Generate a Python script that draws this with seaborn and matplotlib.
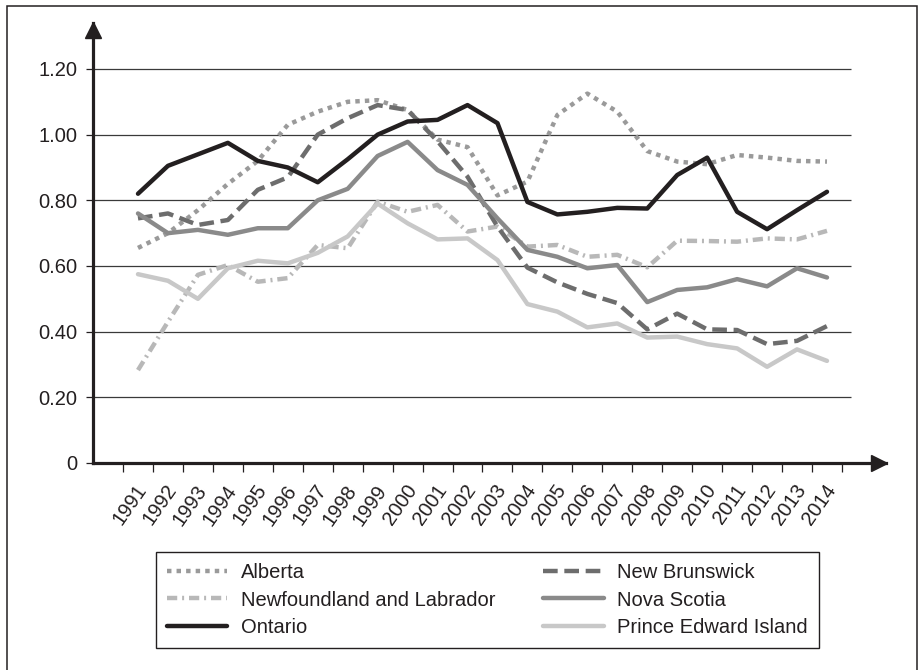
import numpy as np
import pandas as pd
import matplotlib
matplotlib.use("Agg")
import matplotlib.pyplot as plt
import matplotlib.transforms as mtransforms
from matplotlib.patches import Rectangle
import seaborn as sns

# values
years = [str(y) for y in range(1991, 2015)]
alberta = [0.655, 0.70, 0.77, 0.85, 0.92, 1.03, 1.07, 1.10, 1.105, 1.075, 0.985, 0.962,
           0.815, 0.857, 1.06, 1.125, 1.07, 0.95, 0.918, 0.91, 0.938, 0.93, 0.92, 0.918]
newfoundland = [0.283, 0.43, 0.573, 0.603, 0.552, 0.563, 0.664, 0.654, 0.796, 0.765, 0.786, 0.705,
                0.72, 0.659, 0.664, 0.628, 0.634, 0.596, 0.677, 0.676, 0.674, 0.684, 0.681, 0.707]
ontario = [0.82, 0.905, 0.94, 0.975, 0.92, 0.90, 0.855, 0.925, 1.0, 1.04, 1.045, 1.09,
           1.035, 0.795, 0.757, 0.765, 0.777, 0.775, 0.877, 0.93, 0.765, 0.712, 0.77, 0.826]
new_brunswick = [0.745, 0.76, 0.725, 0.74, 0.832, 0.87, 1.0, 1.05, 1.09, 1.075, 0.98, 0.872,
                 0.72, 0.595, 0.55, 0.515, 0.487, 0.407, 0.455, 0.407, 0.405, 0.362, 0.372, 0.417]
nova_scotia = [0.76, 0.70, 0.71, 0.695, 0.715, 0.715, 0.80, 0.835, 0.935, 0.978, 0.892, 0.847,
               0.745, 0.649, 0.628, 0.593, 0.603, 0.49, 0.527, 0.535, 0.56, 0.538, 0.593, 0.565]
pei = [0.575, 0.555, 0.50, 0.593, 0.616, 0.608, 0.64, 0.69, 0.79, 0.73, 0.681, 0.684,
       0.618, 0.484, 0.461, 0.413, 0.425, 0.382, 0.385, 0.362, 0.349, 0.293, 0.346, 0.311]
y_ticks = [0, 0.2, 0.4, 0.6, 0.8, 1.0, 1.2]
y_labels = ["0", "0.20", "0.40", "0.60", "0.80", "1.00", "1.20"]

provinces = ["Alberta", "Newfoundland and Labrador", "Ontario",
             "New Brunswick", "Nova Scotia", "Prince Edward Island"]
series = [alberta, newfoundland, ontario, new_brunswick, nova_scotia, pei]

# long-form table for seaborn
df = pd.DataFrame({
    "idx": np.tile(np.arange(len(years)), len(provinces)),
    "value": np.concatenate(series),
    "province": np.repeat(provinces, len(years)),
})

palette = {
    "Alberta": "#9a9a9a",
    "Newfoundland and Labrador": "#b8b8b8",
    "Ontario": "#231f20",
    "New Brunswick": "#6d6d6d",
    "Nova Scotia": "#8a8a8a",
    "Prince Edward Island": "#c8c8c8",
}
dashes = {
    "Alberta": (1, 1.15),
    "Newfoundland and Labrador": (2.3, 1.1, 0.45, 1.1),
    "Ontario": "",
    "New Brunswick": (3.3, 1.5),
    "Nova Scotia": "",
    "Prince Edward Island": "",
}
draw_order = ["Alberta", "Newfoundland and Labrador", "New Brunswick",
              "Nova Scotia", "Prince Edward Island", "Ontario"]

FS = 14.5

sns.set_theme(style="white")
plt.rcParams["font.family"] = ["Liberation Sans", "DejaVu Sans"]
plt.rcParams["font.size"] = FS
plt.rcParams["text.color"] = "#231f20"

fig = plt.figure(figsize=(9.18, 6.7), dpi=100)
ax = fig.add_axes([93 / 918, 1 - 463 / 670, (886 - 93) / 918, (463 - 23) / 670])

ax.hlines(y_ticks[1:], -1.5, 23.8, color="#3a3a3a", linewidth=0.9, zorder=1)

sns.lineplot(data=df, x="idx", y="value", hue="province", style="province",
             hue_order=draw_order, style_order=draw_order,
             palette=palette, dashes=dashes, linewidth=3.2, ax=ax, legend=True, zorder=3)

ax.set_xlim(-1.502, 24.97)
ax.set_ylim(0, 1.34)
ax.set_xlabel("")
ax.set_ylabel("")

# axes spines with arrow heads
for side in ["top", "right"]:
    ax.spines[side].set_visible(False)
for side in ["left", "bottom"]:
    ax.spines[side].set_color("#231f20")
    ax.spines[side].set_linewidth(2.3)
up = mtransforms.offset_copy(ax.transAxes, fig=fig, x=0, y=-7, units="dots")
right = mtransforms.offset_copy(ax.transAxes, fig=fig, x=-7, y=0, units="dots")
ax.plot(0, 1, marker="^", markersize=11, color="#231f20", transform=up, clip_on=False)
ax.plot(1, 0, marker=">", markersize=11, color="#231f20", transform=right, clip_on=False)

# y ticks
ax.set_yticks(y_ticks)
ax.set_yticklabels(y_labels)
ax.tick_params(axis="y", which="major", direction="out", length=5, width=0.9,
               color="#231f20", pad=6, left=True, labelsize=FS, labelcolor="#231f20")

# x ticks: labels at points, tick marks between categories
ax.set_xticks(range(len(years)))
ax.set_xticklabels(years, rotation=55, ha="right", va="center", rotation_mode="anchor")
ax.set_xticks(np.arange(len(years) + 1) - 0.5, minor=True)
ax.tick_params(axis="x", which="major", length=0, pad=17, labelsize=FS, labelcolor="#231f20")
ax.tick_params(axis="x", which="minor", direction="out", length=6.5, width=0.9,
               color="#231f20", bottom=True)
shift = mtransforms.ScaledTranslation(5 / 100, 0, fig.dpi_scale_trans)
for lab in ax.get_xticklabels():
    lab.set_transform(lab.get_transform() + shift)

# legend in two columns below the chart
handles, labels = ax.get_legend_handles_labels()
lookup = dict(zip(labels, handles))
ax.legend([lookup[p] for p in provinces], provinces, ncol=2,
          loc="upper left", bbox_to_anchor=(156 / 918, 1 - 552 / 670),
          bbox_transform=fig.transFigure, frameon=True, fancybox=False,
          edgecolor="#231f20", framealpha=1, fontsize=FS,
          handlelength=3.0, handletextpad=0.65, columnspacing=2.4,
          labelspacing=0.42, borderpad=0.55, borderaxespad=0)
ax.get_legend().get_frame().set_linewidth(1.0)

# outer frame around the figure
fig.patches.append(Rectangle((7 / 918, -0.01), 909.5 / 918, 1 - 6 / 670 + 0.01,
                             transform=fig.transFigure, fill=False,
                             edgecolor="#231f20", linewidth=1.1))

fig.savefig("out.png", dpi=100)
